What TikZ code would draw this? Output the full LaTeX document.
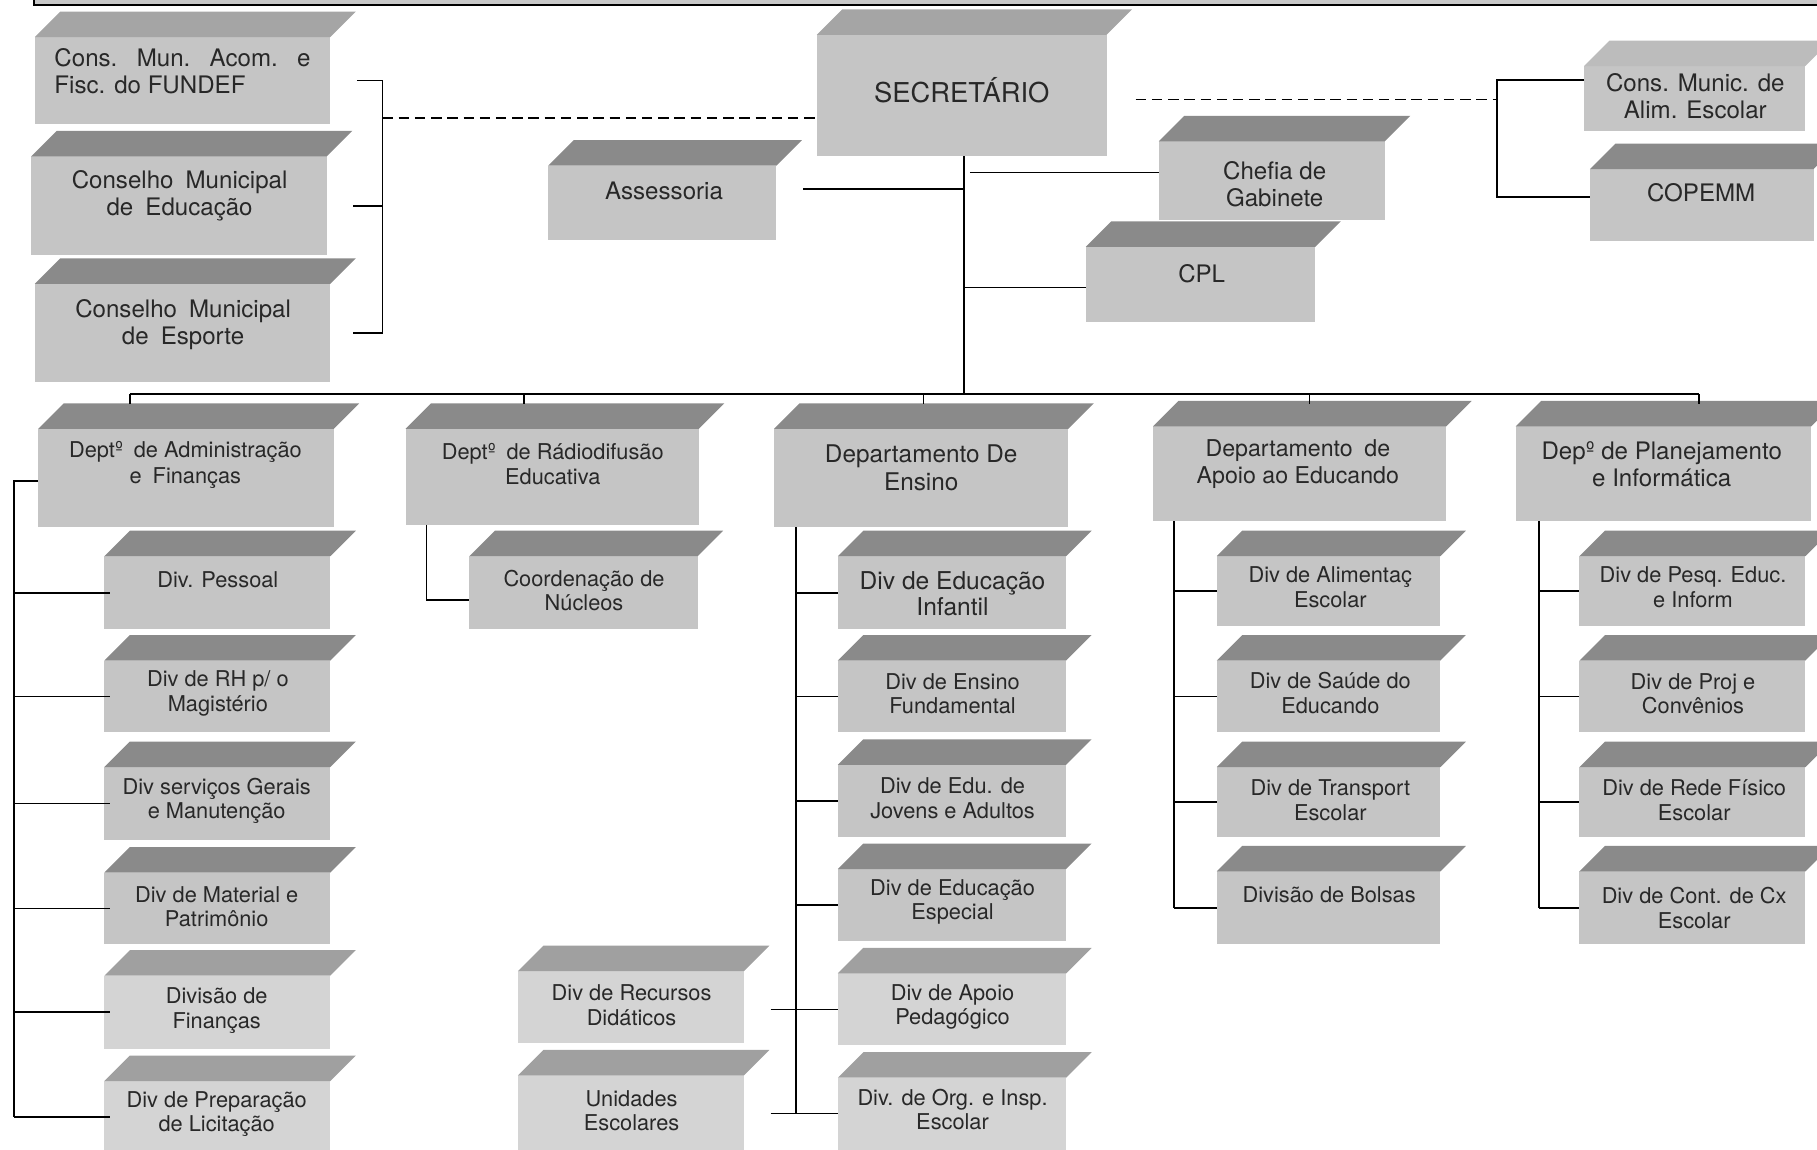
\documentclass[tikz,border=0pt]{standalone}
\usepackage{fontspec}
\setmainfont{TeX Gyre Heros}
\usetikzlibrary{fit,calc}

\definecolor{facegray}{RGB}{197,197,197}
\definecolor{topgray}{RGB}{138,138,138}
\definecolor{midtop}{RGB}{165,165,165}
\definecolor{lighttop}{RGB}{188,188,188}
\definecolor{palegray}{RGB}{212,212,212}
\definecolor{paletop}{RGB}{160,160,160}
\definecolor{bandgray}{RGB}{200,200,200}
\definecolor{inkgray}{RGB}{40,40,40}

\tikzset{
  front/.style={fill=facegray, draw=none, inner sep=0pt, outer sep=0pt},
  topface/.style={fill=topgray},
  lbl/.style={font=\fontsize{9.4}{10.6}\selectfont, text=inkgray, align=center, inner sep=0pt},
  pale/.style={front/.append style={fill=palegray}, topface/.append style={fill=paletop}},
  big/.style={lbl/.append style={font=\fontsize{10.4}{11.8}\selectfont}},
  link/.style={draw=black, line width=0.7pt},
  dashlink/.style={link, dash pattern=on 4.5pt off 2.5pt},
}

% box with a slanted top face: [options]{name}{x1}{y1}{x2}{y2}{text x}{text y}{text}
\newcommand\obox[9][]{%
  \begin{scope}[#1]
    \node[front, fit={(#3,#4) (#5,#6)}] (#2) {};
    \fill[topface] (#2.north west) -- ++(22,-22) -- ($(#2.north east)+(22,-22)$) -- (#2.north east) -- cycle;
    \node[lbl] (#2-t) at (#7,#8) {#9};
  \end{scope}}

\begin{document}
\begin{tikzpicture}[x=0.5pt, y=-0.5pt]
\useasboundingbox (0,0) rectangle (1568,992);

% frame edge along the top
\draw[fill=bandgray, line width=0.8pt] (29,-12) rectangle (1590,4);

% councils on the left
\obox[big, topface/.append style={fill=midtop}, lbl/.append style={align=left}]{fundef}{30}{32}{285}{107}{157.5}{61.5}{\makebox[110.5pt][s]{Cons. Mun. Acom. e}\\Fisc. do FUNDEF}
\obox[big]{cme}{27}{135}{282}{220}{155}{169}{Conselho\enspace Municipal\\de\enspace Educação}
\obox[big]{cmesp}{30}{245}{285}{330}{158}{280}{Conselho\enspace Municipal\\de\enspace Esporte}

% head of the secretariat
\obox[topface/.append style={fill=midtop}, lbl/.append style={font=\fontsize{11.8}{13}\selectfont}]{sec}{705}{30}{955}{135}{830}{78}{SECRETÁRIO}

% councils on the right
\obox[big, topface/.append style={fill=lighttop}]{alim}{1367}{57}{1558}{113}{1463}{83}{Cons. Munic. de\\Alim. Escolar}
\obox[big]{copemm}{1372}{146}{1565}{208}{1468}{166}{COPEMM}

% staff units
\obox[big]{ass}{473}{143}{670}{207}{573}{165}{Assessoria}
\obox[big]{chefia}{1000}{122}{1195}{190}{1100}{159}{Chefia de\\Gabinete}
\obox[big]{cpl}{937}{213}{1135}{278}{1037}{236}{CPL}

% departments
\obox[lbl/.append style={font=\fontsize{9.4}{11}\selectfont}]{d1}{33}{370}{288}{455}{160}{401}{Deptº\enspace de Administração\\e\enspace Finanças}
\obox[lbl/.append style={font=\fontsize{9.4}{11}\selectfont}]{d2}{350}{370}{603}{453}{477}{400.5}{Deptº\enspace de Rádiodifusão\\Educativa}
\obox[lbl/.append style={font=\fontsize{10.5}{12}\selectfont}]{d3}{668}{370}{922}{455}{795}{404}{Departamento De\\Ensino}
\obox[lbl/.append style={font=\fontsize{10}{11.5}\selectfont}]{d4}{995}{368}{1248}{450}{1120}{400.5}{Departamento\enspace de\\Apoio ao Educando}
\obox[lbl/.append style={font=\fontsize{10.4}{11.5}\selectfont}]{d5}{1308}{368}{1563}{450}{1434}{400.5}{Depº de Planejamento\\e Informática}

% divisions of administration and finance
\obox{pes}{90}{480}{285}{543}{188}{500}{Div. Pessoal}
\obox{rh}{90}{570}{285}{632}{188}{598.5}{Div de RH p/ o\\Magistério}
\obox{serv}{90}{662}{285}{725}{187}{691}{Div serviços Gerais\\e Manutenção}
\obox{mat}{90}{753}{285}{815}{187}{782.5}{Div de Material e\\Patrimônio}
\obox[pale]{fin}{90}{842}{285}{905}{187}{872}{Divisão de\\Finanças}
\obox[pale]{lic}{90}{933}{285}{995}{187}{961.5}{Div de Preparação\\de Licitação}

% radio department
\obox{nuc}{405}{480}{602}{543}{504}{509.5}{Coordenação de\\Núcleos}

% teaching department
\obox[lbl/.append style={font=\fontsize{10.6}{11.5}\selectfont}]{infantil}{723}{480}{920}{543}{822}{512.5}{Div de Educação\\Infantil}
\obox{fund}{723}{570}{920}{632}{822}{598.5}{Div de Ensino\\Fundamental}
\obox{eja}{723}{660}{920}{722}{822}{689}{Div de Edu. de\\Jovens e Adultos}
\obox{esp}{723}{750}{920}{812}{822}{778.5}{Div de Educação\\Especial}
\obox[pale]{apoio}{723}{840}{920}{902}{822}{869}{Div de Apoio\\Pedagógico}
\obox[pale]{insp}{723}{930}{920}{992}{822}{957.5}{Div. de Org. e Insp.\\Escolar}
\obox[pale]{rec}{447}{838}{642}{900}{545}{867.5}{Div de Recursos\\Didáticos}
\obox[pale]{unid}{447}{928}{642}{992}{545}{958.5}{Unidades\\Escolares}

% student support department
\obox{alimentac}{1050}{480}{1243}{540}{1148}{506.5}{Div de Alimentaç\\Escolar}
\obox{saude}{1050}{570}{1243}{632}{1148}{598}{Div de Saúde do\\Educando}
\obox{transp}{1050}{662}{1243}{722}{1148}{690.5}{Div de Transport\\Escolar}
\obox{bolsas}{1050}{752}{1243}{815}{1147}{772}{Divisão de Bolsas}

% planning department
\obox{pesq}{1363}{480}{1558}{540}{1461}{506.5}{Div de Pesq. Educ.\\e Inform}
\obox{proj}{1363}{570}{1558}{632}{1461}{598.5}{Div de Proj e\\Convênios}
\obox{rede}{1363}{662}{1558}{722}{1462}{690.5}{Div de Rede Físico\\Escolar}
\obox{cx}{1363}{752}{1558}{815}{1462}{783.5}{Div de Cont. de Cx\\Escolar}

% ---- connectors ----
% left councils bracket and dashed link to the secretary
\coordinate (cbx) at (330,0);
\coordinate (dl) at (330,102);
\draw[link] ([xshift=11.5pt]fundef.east) -- (fundef.east -| cbx) -- (cmesp.east -| cbx) -- ([xshift=10pt]cmesp.east);
\draw[link] ([xshift=11.5pt]cme.east) -- (cme.east -| cbx);
\draw[dashlink] (dl) -- (dl -| sec.west);

% right councils bracket and dashed link
\coordinate (rbt) at (1292,69);
\coordinate (rbb) at (1292,170);
\coordinate (rbm) at (1292,86);
\draw[link] (rbt -| alim.west) -- (rbt) -- (rbb) -- (rbb -| copemm.west);
\draw[dashlink] ([xshift=12.5pt]sec.east |- rbm) -- (rbm);

% trunk from the secretary to the department bus
\coordinate (bus) at (832,340);
\draw[link] (sec.south -| bus) -- (bus);
\coordinate (ta) at (832,163);
\coordinate (tc) at (837,149);
\coordinate (tp) at (832,248);
\draw[link] ([xshift=11.5pt]ass.east |- ta) -- (ta);
\draw[link] (tc) -- (tc -| chefia.west);
\draw[link] (tp) -- (tp -| cpl.west);

% department bus
\coordinate (b1) at (112,340);
\coordinate (b2) at (452,340);
\coordinate (b3) at (797,340);
\coordinate (b4) at (1130,340);
\coordinate (b5) at (1466,340);
\draw[link] (b1) -- (b5);
\foreach \b in {b1,b2,b3,b4,b5} \draw[link] (\b) -- ++(0,9);

% administration and finance divisions
\coordinate (v1) at (12,415);
\draw[link] (v1 -| d1.west) -- (v1) -- (v1 |- lic.west);
\foreach \s in {pes,rh,serv,mat,fin,lic} \draw[link] (v1 |- \s.west) -- ([xshift=2.5pt]\s.west);

% radio department
\coordinate (v2) at (368,518);
\draw[link] (v2 |- d2.south) -- (v2) -- (v2 -| nuc.west);

% teaching department
\coordinate (v3) at (687,0);
\draw[link] (v3 |- d3.south) -- (v3 |- insp.west);
\foreach \s in {infantil,fund,eja,esp} \draw[link] (v3 |- \s.west) -- (\s.west);
\draw[link] ([xshift=11.5pt]rec.east |- apoio.west) -- (apoio.west);
\draw[link] ([xshift=11.5pt]unid.east |- insp.west) -- (insp.west);

% student support department
\coordinate (v4) at (1013,0);
\draw[link] (v4 |- d4.south) -- (v4 |- bolsas.west);
\foreach \s in {alimentac,saude,transp,bolsas} \draw[link] (v4 |- \s.west) -- (\s.west);

% planning department
\coordinate (v5) at (1328,0);
\draw[link] (v5 |- d5.south) -- (v5 |- cx.west);
\foreach \s in {pesq,proj,rede,cx} \draw[link] (v5 |- \s.west) -- (\s.west);

\end{tikzpicture}
\end{document}
